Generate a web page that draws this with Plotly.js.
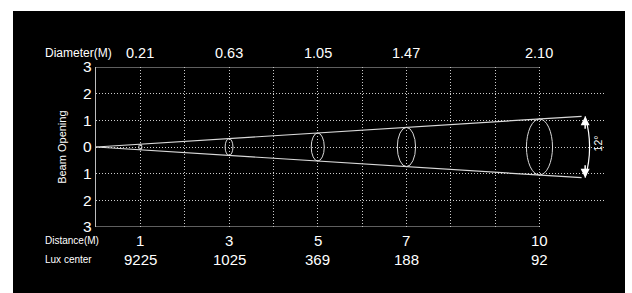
<!DOCTYPE html>
<html>
<head>
<meta charset="utf-8">
<script src="https://cdn.plot.ly/plotly-3.0.1.min.js"></script>
<style>
  html, body { margin: 0; padding: 0; background: #ffffff; width: 632px; height: 293px; overflow: hidden; }
  #chart { position: absolute; left: 13px; top: 11px; width: 612px; height: 282px; background: #000; }
</style>
</head>
<body>
<div id="chart"></div>
<script>
// ---- data ----
const distances = [1, 3, 5, 7, 10];
const distanceLabels = ["1", "3", "5", "7", "10"];
const diameters = [0.21, 0.63, 1.05, 1.47, 2.10];
const diameterLabels = ["0.21", "0.63", "1.05", "1.47", "2.10"];
const luxCenter = [9225, 1025, 369, 188, 92];
const beamAngleDeg = 12;
const beamEnd = 10.95;
const yTickVals = [-3, -2, -1, 0, 1, 2, 3];
const yTickText = ["3", "2", "1", "0", "1", "2", "3"];
const xGridVals = [1, 2, 3, 4, 5, 6, 7, 8, 9, 10];

// ---- styles ----
const FONT = "Liberation Sans, Arial, sans-serif";
const LINE = "#d9d9d9";
const ELLIPSE_ASPECT = 0.14;
const GRID = "rgba(255,255,255,0.8)";
const GRID_DASH = "1px,2px";

const slope = Math.tan(beamAngleDeg / 2 * Math.PI / 180);

const traces = [
  { x: [0, beamEnd], y: [0, slope * beamEnd], mode: "lines", line: { color: LINE, width: 1.2 }, hoverinfo: "skip" },
  { x: [0, beamEnd], y: [0, -slope * beamEnd], mode: "lines", line: { color: LINE, width: 1.2 }, hoverinfo: "skip" }
];

const shapes = [];
// frame lines (top & bottom) from 0 to last distance
const xMax = distances[distances.length - 1];
shapes.push({ type: "line", xref: "x", yref: "y", x0: 0, x1: xMax, y0: 3, y1: 3, line: { color: "#bdbdbd", width: 1.2 } });
shapes.push({ type: "line", xref: "x", yref: "y", x0: 0, x1: xMax, y0: -3, y1: -3, line: { color: "#bdbdbd", width: 1.2 } });
// beam cross-section ellipses
distances.forEach((d, i) => {
  const r = diameters[i] / 2;
  const w = Math.max(diameters[i] * ELLIPSE_ASPECT, 0.035);
  shapes.push({
    type: "circle", xref: "x", yref: "y",
    x0: d - w, x1: d + w, y0: -r, y1: r,
    line: { color: LINE, width: 1 }
  });
});
// angle arc
const ax = beamEnd + 0.08;
const ay = slope * beamEnd;
shapes.push({
  type: "path", xref: "x", yref: "y",
  path: `M ${ax},${ay} Q ${ax + 0.2},0 ${ax},${-ay}`,
  line: { color: "#ffffff", width: 1.2 }
});

const annotations = [];
const txt = (text, size) => ({ text: text, font: { family: FONT, size: size, color: "#ffffff" }, showarrow: false });

annotations.push(Object.assign(txt("Diameter(M)", 12), { xref: "paper", yref: "paper", x: -0.104, y: 1, xanchor: "left", yanchor: "middle", yshift: 14 }));
annotations.push(Object.assign(txt("Distance(M)", 10), { xref: "paper", yref: "paper", x: -0.104, y: 0, xanchor: "left", yanchor: "middle", yshift: -13.5 }));
annotations.push(Object.assign(txt("Lux center", 10), { xref: "paper", yref: "paper", x: -0.104, y: 0, xanchor: "left", yanchor: "middle", yshift: -32 }));
annotations.push(Object.assign(txt("Beam Opening", 11), { xref: "paper", yref: "paper", x: -0.067, y: 0.5, xanchor: "center", yanchor: "middle", textangle: -90 }));

distances.forEach((d, i) => {
  annotations.push(Object.assign(txt(diameterLabels[i], 14.5), { xref: "x", yref: "paper", x: d, y: 1, xanchor: "center", yanchor: "middle", yshift: 14 }));
  annotations.push(Object.assign(txt(distanceLabels[i], 15), { xref: "x", yref: "paper", x: d, y: 0, xanchor: "center", yanchor: "middle", yshift: -13.5 }));
  annotations.push(Object.assign(txt(String(luxCenter[i]), 15), { xref: "x", yref: "paper", x: d, y: 0, xanchor: "center", yanchor: "middle", yshift: -32 }));
});

// arrow heads
annotations.push({ xref: "x", yref: "y", x: ax, y: ay, ax: 0, ay: 14, axref: "pixel", ayref: "pixel", text: "", showarrow: true, arrowhead: 2, arrowsize: 1.2, arrowwidth: 1.5, arrowcolor: "#ffffff" });
annotations.push({ xref: "x", yref: "y", x: ax, y: -ay, ax: 0, ay: -14, axref: "pixel", ayref: "pixel", text: "", showarrow: true, arrowhead: 2, arrowsize: 1.2, arrowwidth: 1.5, arrowcolor: "#ffffff" });
annotations.push(Object.assign(txt(beamAngleDeg + "°", 10.5), { xref: "x", yref: "y", x: ax + 0.3, y: 0.15, xanchor: "center", yanchor: "middle", textangle: -90 }));

const layout = {
  width: 612, height: 282,
  margin: { l: 83, r: 19, t: 56, b: 66 },
  paper_bgcolor: "#000000",
  plot_bgcolor: "#000000",
  showlegend: false,
  xaxis: {
    range: [0, 11.5], showline: false, zeroline: false,
    tickvals: xGridVals, showticklabels: false, ticks: "",
    showgrid: true, gridcolor: GRID, griddash: GRID_DASH, gridwidth: 1
  },
  yaxis: {
    range: [-3, 3], showline: true, linecolor: "#bdbdbd", linewidth: 1.2, zeroline: false,
    tickvals: yTickVals, ticktext: yTickText, ticks: "",
    tickfont: { family: FONT, size: 15.5, color: "#ffffff" },
    showgrid: true, gridcolor: GRID, griddash: GRID_DASH, gridwidth: 1
  },
  shapes: shapes,
  annotations: annotations
};

Plotly.newPlot("chart", traces, layout, { staticPlot: true, displayModeBar: false });
</script>
</body>
</html>
